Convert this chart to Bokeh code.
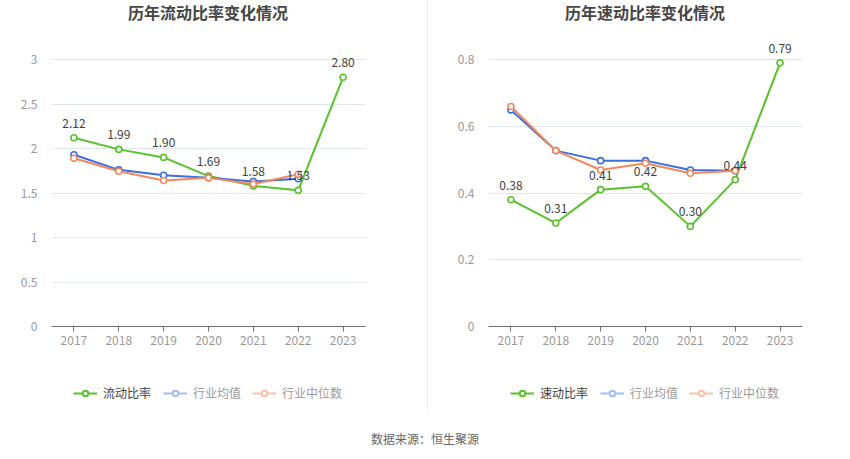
from bokeh.plotting import figure
from bokeh.models import (ColumnDataSource, FactorRange, Range1d, FixedTicker, Legend, LegendItem,
                          LabelSet, Div)
from bokeh.core.properties import value
from bokeh.layouts import row, column
from bokeh.embed import file_html
from bokeh.resources import INLINE

years = ["2017", "2018", "2019", "2020", "2021", "2022", "2023"]

current_ratio = [2.12, 1.99, 1.90, 1.69, 1.58, 1.53, 2.80]
current_avg = [1.93, 1.76, 1.70, 1.67, 1.63, 1.66]
current_median = [1.89, 1.745, 1.64, 1.67, 1.60, 1.71]

quick_ratio = [0.38, 0.31, 0.41, 0.42, 0.30, 0.44, 0.79]
quick_avg = [0.649, 0.527, 0.497, 0.497, 0.469, 0.467]
quick_median = [0.659, 0.527, 0.469, 0.489, 0.459, 0.467]

left_ticks = [0, 0.5, 1, 1.5, 2, 2.5, 3]
left_tick_labels = ["0", "0.5", "1", "1.5", "2", "2.5", "3"]
right_ticks = [0, 0.2, 0.4, 0.6, 0.8]
right_tick_labels = ["0", "0.2", "0.4", "0.6", "0.8"]

FONT = "Noto Sans CJK SC"
GREEN = "#58c22a"
BLUE = "#3a6fe0"
ORANGE = "#f3885f"
BLUE_L = "#a3bdf3"
ORANGE_L = "#f9c2ab"


def make_title(text, width, ml):
    return Div(text=f'<div style="width:314px;margin-left:{ml}px;text-align:center;'
                    f'font-family:\'Noto Sans CJK SC\';font-size:16px;font-weight:bold;'
                    f'line-height:25px;color:#464646;">{text}</div>',
               width=width, height=32, margin=0)


def make_chart(main, avg, med, ymax, ticks, tick_labels, width, bl, br):
    p = figure(width=width, height=333, x_range=FactorRange(*years, range_padding=0),
               y_range=Range1d(0, ymax), output_backend="svg", toolbar_location=None,
               min_border_left=bl, min_border_right=br, min_border_top=0, min_border_bottom=39)
    p.outline_line_color = None

    p.xgrid.grid_line_color = None
    p.ygrid.grid_line_color = "#e0e6f1"
    p.ygrid.ticker = FixedTicker(ticks=ticks)

    p.yaxis.ticker = FixedTicker(ticks=ticks)
    p.yaxis.major_label_overrides = {t: l for t, l in zip(ticks, tick_labels)}
    p.yaxis.axis_line_color = None
    p.yaxis.major_tick_line_color = None
    p.yaxis.minor_tick_line_color = None
    p.yaxis.major_label_text_color = "#999999"
    p.yaxis.major_label_text_font = FONT
    p.yaxis.major_label_text_font_size = "12px"
    p.yaxis.major_label_standoff = 8

    p.xaxis.axis_line_color = "#6e7079"
    p.xaxis.major_tick_line_color = "#6e7079"
    p.xaxis.major_tick_in = 0
    p.xaxis.major_tick_out = 5
    p.xaxis.major_label_text_color = "#999999"
    p.xaxis.major_label_text_font = FONT
    p.xaxis.major_label_text_font_size = "12px"
    p.xaxis.major_label_standoff = 4

    src_main = ColumnDataSource(dict(x=years, y=main, t=[f"{v:.2f}" for v in main]))
    src_avg = ColumnDataSource(dict(x=years[:len(avg)], y=avg))
    src_med = ColumnDataSource(dict(x=years[:len(med)], y=med))

    for src, col in ((src_main, GREEN), (src_avg, BLUE), (src_med, ORANGE)):
        p.line("x", "y", source=src, line_color=col, line_width=2)
        p.scatter("x", "y", source=src, marker="circle", size=6, fill_color="white",
                  line_color=col, line_width=1.6)

    labels = LabelSet(x="x", y="y", text="t", source=src_main, y_offset=10,
                      text_align="center", text_baseline="bottom", text_font=value(FONT),
                      text_font_size=value("12px"), text_color="#404040")
    p.add_layout(labels)
    return p


def make_legend(main_name, width, bl, br, xs):
    # frame of this strip lines up with the chart's frame above it
    lf = figure(width=width, height=45, x_range=Range1d(0, 1), y_range=Range1d(0, 1),
                output_backend="svg", toolbar_location=None,
                min_border_left=bl, min_border_right=br, min_border_top=0, min_border_bottom=0,
                x_axis_location=None, y_axis_location=None)
    lf.grid.visible = False
    lf.outline_line_color = None
    entries = [(main_name, GREEN, "#404040"), ("行业均值", BLUE_L, "#9a9a9a"),
               ("行业中位数", ORANGE_L, "#9a9a9a")]
    for (name, col, tcol), xpos in zip(entries, xs):
        r1 = lf.line(x=[-5, -4], y=[-5, -4], line_color=col, line_width=2)
        r2 = lf.scatter(x=[-5], y=[-5], marker="circle", size=10, fill_color="white",
                        line_color=col, line_width=2)
        lg = Legend(items=[LegendItem(label=name, renderers=[r1, r2])],
                    location=(xpos, 9), orientation="horizontal",
                    glyph_width=24, glyph_height=14, label_standoff=6,
                    label_text_font=FONT, label_text_font_size="12px",
                    label_text_color=tcol, padding=0, margin=0,
                    border_line_color=None, background_fill_alpha=0)
        lf.add_layout(lg, "center")
    return lf


# frame spans from y=32 (below the title) to y=326; the top tick's gridline sits 267px above 0
p1 = make_chart(current_ratio, current_avg, current_median,
                294 / 89.0, left_ticks, left_tick_labels, 427, 51, 62)
p2 = make_chart(quick_ratio, quick_avg, quick_median,
                294 / 333.75, right_ticks, right_tick_labels, 422, 60, 48)
t1 = make_title("历年流动比率变化情况", 427, 51)
t2 = make_title("历年速动比率变化情况", 422, 60)
l1 = make_legend("流动比率", 427, 51, 62, [22, 112, 201])
l2 = make_legend("速动比率", 422, 60, 48, [22, 112, 201])

divider = Div(width=1, height=410, margin=0, styles={"background-color": "#eeeeee"})
source = Div(text='<div style="width:850px;text-align:center;font-family:\'Noto Sans CJK SC\';'
                  'font-size:12px;line-height:17px;color:#666666;padding-top:20px;">数据来源：恒生聚源</div>',
             width=850, height=49, margin=0)

layout = column(row(column(t1, p1, l1), divider, column(t2, p2, l2)), source)
open("out.html", "w").write(file_html(layout, INLINE))
